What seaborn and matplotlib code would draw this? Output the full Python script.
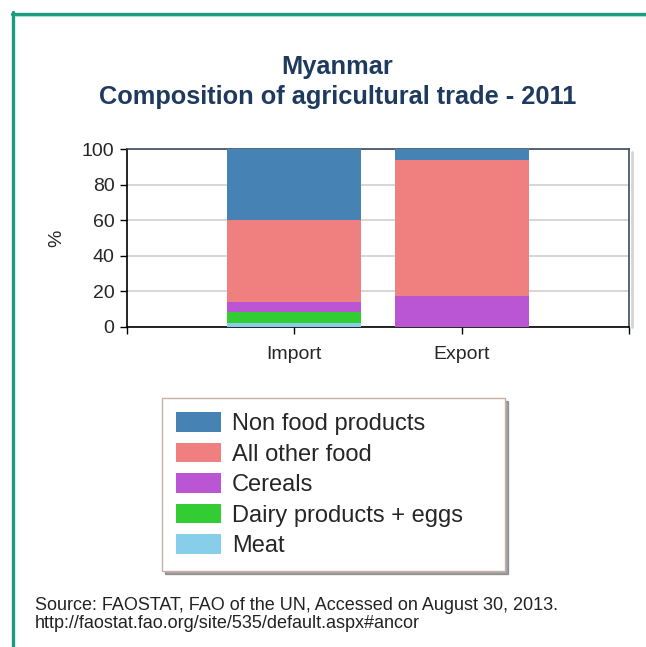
import pandas as pd
import matplotlib
matplotlib.use("Agg")
import matplotlib.pyplot as plt
import seaborn as sns
from matplotlib.lines import Line2D

# data (% of agricultural trade, 2011)
flows = ["Import", "Export"]
groups = ["Non food products", "All other food", "Cereals", "Dairy products + eggs", "Meat"]
non_food = [40.0, 6.2]
other_food = [46.1, 76.2]
cereals = [5.3, 17.6]
dairy = [6.6, 0.0]
meat = [2.0, 0.0]
colors = ["#4682b4", "#f08080", "#ba55d3", "#32cd32", "#87ceeb"]

df = pd.DataFrame({"flow": flows, "Non food products": non_food, "All other food": other_food,
                   "Cereals": cereals, "Dairy products + eggs": dairy, "Meat": meat})

# stacked bars: draw cumulative totals from the top segment down
bottom_up = groups[::-1]
cum = df[bottom_up].cumsum(axis=1)

sns.set_style("white")
plt.rcParams['font.family'] = ['Liberation Sans', 'DejaVu Sans']

fig = plt.figure(figsize=(6.46, 6.47), dpi=100)
ax = fig.add_axes([0.1966, 0.4946, 0.777, 0.2751])

for g, c in zip(groups, colors):
    sns.barplot(x=df["flow"], y=cum[g], color=c, label=g, width=0.8,
                linewidth=0, saturation=1, ax=ax, zorder=3)

ax.set_xlim(-1, 2)
ax.set_ylim(0, 100)
ax.set_yticks([0, 20, 40, 60, 80, 100])
ax.set_xticks([-1, 0, 1, 2])
ax.set_xticklabels(["", "Import", "Export", ""])
ax.tick_params(axis="both", labelsize=14, length=5, width=1, direction="out",
               color="black", bottom=True, left=True, pad=4)
ax.tick_params(axis="x", pad=9)
ax.yaxis.grid(True, color="#d0d0d0", linewidth=1.2, zorder=0)
ax.set_axisbelow(True)
ax.set_xlabel("")
ax.set_ylabel("%", fontsize=14, labelpad=12)
for s in ["left", "bottom"]:
    ax.spines[s].set_color("black")
    ax.spines[s].set_linewidth(1.2)
for s in ["top", "right"]:
    ax.spines[s].set_color("#3c4c5c")
    ax.spines[s].set_linewidth(1.2)
if ax.legend_:
    ax.legend_.remove()

# soft shadow along the right edge of the plot frame
fig.add_artist(Line2D([632 / 646] * 2, [1 - 152 / 647, 1 - 327 / 647], transform=fig.transFigure,
                      color="#b8b8b8", linewidth=2, alpha=0.6))

handles, labels = ax.get_legend_handles_labels()
leg = fig.legend(handles, labels, loc="upper left", mode="expand",
                 bbox_to_anchor=(0.2508, 0.10, 0.531, 0.2849), borderaxespad=0, fontsize=17,
                 handlelength=1.9, handleheight=0.9, handletextpad=0.45,
                 labelspacing=0.32, borderpad=0.6, fancybox=False, shadow=True,
                 edgecolor="#c8b0a8", framealpha=1)
leg.get_frame().set_linewidth(1)

title_color = "#1f3a5f"
fig.text(0.522, 1 - 67 / 647, "Myanmar", ha="center", va="center",
         fontsize=18.3, fontweight="bold", color=title_color)
fig.text(0.522, 1 - 97 / 647, "Composition of agricultural trade - 2011", ha="center",
         va="center", fontsize=18.3, fontweight="bold", color=title_color)

fig.text(35 / 646, 1 - 606 / 647, "Source: FAOSTAT, FAO of the UN, Accessed on August 30, 2013.",
         ha="left", va="center", fontsize=13, color="#222222")
fig.text(35 / 646, 1 - 624 / 647, "http://faostat.fao.org/site/535/default.aspx#ancor",
         ha="left", va="center", fontsize=13, color="#222222")

# teal frame around the figure (top and left edges)
fig.add_artist(Line2D([12 / 646, 1], [1 - 13.5 / 647] * 2, transform=fig.transFigure,
                      color="#1a9c80", linewidth=2.4))
fig.add_artist(Line2D([13.5 / 646] * 2, [0, 1 - 12 / 647], transform=fig.transFigure,
                      color="#1a9c80", linewidth=2.4))
fig.add_artist(Line2D([15 / 646, 1], [1 - 16 / 647] * 2, transform=fig.transFigure,
                      color="#a8dccc", linewidth=0.8))

fig.savefig("out.png", dpi=100)
